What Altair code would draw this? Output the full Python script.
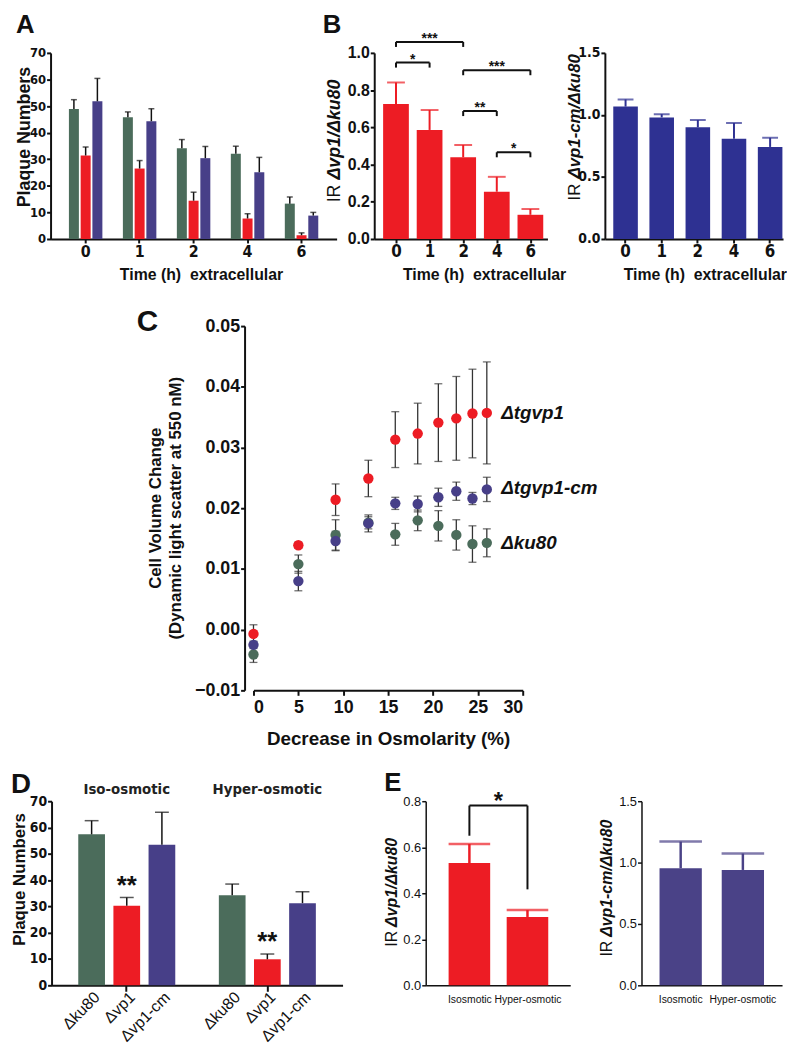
import json
import altair as alt
import pandas as pd

SANS = "Liberation Sans, Arial, Helvetica, sans-serif"
COND = "Liberation Sans Narrow, Arial Narrow, DejaVu Sans Condensed, Liberation Sans, sans-serif"
INK = "#111111"
RED = "#ed1c24"
A_GREEN = "#4b6c5b"
A_BLUE = "#473f88"
B_NAVY = "#2e3192"
C_GREEN = "#00a651"
C_BLUE = "#2e3192"
D_GREEN = "#47795f"
D_BLUE = "#463f86"
E_BLUE = "#4a4287"
NOFRAME = alt.ViewBackground(stroke=None, strokeWidth=0)

# ---------------- data ----------------
# Panel A: plaque numbers vs extracellular time
a_times = ["0", "1", "2", "4", "6"]
a_strains = ["ku80", "vp1", "vp1cm"]
a_ku80 = [48.9, 45.8, 34.1, 32.1, 13.3]
a_ku80_up = [52.4, 47.8, 37.4, 34.9, 15.8]
a_vp1 = [31.4, 26.5, 14.4, 7.7, 1.4]
a_vp1_up = [34.6, 29.5, 17.6, 9.5, 2.3]
a_cm = [51.8, 44.3, 30.4, 25.1, 8.8]
a_cm_up = [60.4, 49.0, 34.8, 30.7, 10.0]

# Panel B: invasion ratios
b_times = ["0", "1", "2", "4", "6"]
b_vp1 = [0.725, 0.586, 0.439, 0.254, 0.130]
b_vp1_up = [0.841, 0.693, 0.505, 0.334, 0.161]
b_cm = [1.067, 0.980, 0.900, 0.808, 0.742]
b_cm_up = [1.125, 1.006, 0.959, 0.935, 0.816]
b_sig_from = ["0", "0", "2", "2", "4"]
b_sig_to = ["2", "1", "6", "4", "6"]
b_sig_y = [1.059, 0.948, 0.907, 0.6875, 0.466]
b_sig_text = ["***", "*", "***", "**", "*"]

# Panel C: cell volume change
c_strains = ["ku80", "vp1", "vp1cm"]
c_x = [0, 5, 9.15, 12.8, 15.8, 18.3, 20.6, 22.6, 24.4, 26.0]
c_ku80 = [-0.0041, 0.0108, 0.0156, 0.0176, 0.0157, 0.0180, 0.0171, 0.0156, 0.0141, 0.0143]
c_ku80_sem = [0.0013, 0.0015, 0.0025, 0.0010, 0.0018, 0.0017, 0.0025, 0.0025, 0.0030, 0.0023]
c_vp1 = [-0.0007, 0.0139, 0.0214, 0.0249, 0.0313, 0.0323, 0.0341, 0.0348, 0.0356, 0.0357]
c_vp1_sem = [0.0015, 0.0005, 0.0026, 0.0030, 0.0046, 0.0050, 0.0064, 0.0069, 0.0073, 0.0084]
c_cm = [-0.0025, 0.0080, 0.0146, 0.0175, 0.0208, 0.0207, 0.0218, 0.0228, 0.0216, 0.0231]
c_cm_sem = [0.0006, 0.0016, 0.0016, 0.0014, 0.0010, 0.0013, 0.0015, 0.0015, 0.0010, 0.0020]
c_lab_text = ["\u0394tgvp1", "\u0394tgvp1-cm", "\u0394ku80"]
c_lab_x = [27.6, 27.6, 27.6]
c_lab_y = [0.0356, 0.0233, 0.0143]

# Panel D: plaque numbers iso / hyper-osmotic
d_groups = ["Iso-osmotic", "Hyper-osmotic"]
d_strains = ["\u0394ku80", "\u0394vp1", "\u0394vp1-cm"]
d_iso = [57.4, 30.25, 53.4]
d_iso_up = [62.6, 33.4, 65.8]
d_hyp = [34.25, 9.9, 31.25]
d_hyp_up = [38.5, 11.9, 35.6]
d_star_y = [40.5, 19.0]

# Panel E: invasion ratios
e_conds = ["Isosmotic", "Hyper-osmotic"]
e_vp1 = [0.531, 0.297]
e_vp1_up = [0.614, 0.327]
e_cm = [0.954, 0.940]
e_cm_up = [1.171, 1.074]
e_sig_top = 0.781
e_sig_low = [0.65, 0.417]


# ---------------- helpers ----------------
def ax(**kw):
    base = dict(domainColor=INK, domainWidth=2, tickColor=INK, tickWidth=2, tickSize=4,
                labelColor=INK, titleColor=INK, grid=False, labelFontWeight="bold",
                labelFont=COND)
    base.update(kw)
    return alt.Axis(**base)


def note(text, x, y, size, weight="bold", style="normal", angle=0, align="left",
         baseline="alphabetic", font=SANS):
    mk = dict(align=align, baseline=baseline, font=font, fontSize=size,
              fontWeight=weight, fontStyle=style, color=INK)
    if angle:
        mk["angle"] = angle
    return alt.Chart(pd.DataFrame({"t": [text]})).mark_text(**mk).encode(
        text="t:N", x=alt.value(x), y=alt.value(y))


def letter(ch, x, y, size):
    return note(ch, x, y, size, baseline="top")


def ir_title(x, y_ir, y_it, italic, size):
    return alt.layer(
        note("IR", x, y_ir, size, weight="normal", angle=270, baseline="middle"),
        note(italic, x, y_it, size, weight="bold", style="italic", angle=270, baseline="middle"),
    )


def dot(x, y):
    return alt.Chart(pd.DataFrame({"z": [0]})).mark_point(opacity=0, size=1).encode(
        x=alt.value(x), y=alt.value(y))


def spacer(w, h):
    return dot(0, 0).properties(width=w, height=h, view=NOFRAME)


def row_spacer(w, h, top_ext, bottom_ext):
    # invisible anchors that fix the row's bounding box
    return alt.layer(dot(0, -top_ext), dot(0, h + bottom_ext)).properties(width=w, height=h, view=NOFRAME)


# ---------------- Panel A ----------------
WA, HA = 289, 188
dfA = pd.DataFrame({
    "time": a_times * 3,
    "strain": [s for s in a_strains for _ in a_times],
    "mean": a_ku80 + a_vp1 + a_cm,
    "up": a_ku80_up + a_vp1_up + a_cm_up,
})
xA = alt.X("time:N", sort=a_times,
           scale=alt.Scale(type="band", paddingInner=0.38, paddingOuter=0.34),
           axis=ax(title="Time (h)\u00a0 extracellular", labelAngle=0, labelFontSize=16,
                   labelPadding=1, titleFont=SANS, titleFontSize=16, titleFontWeight="bold",
                   titleX=152, titleY=28))
xoA = alt.XOffset("strain:N", sort=a_strains, scale=alt.Scale(type="band", paddingInner=0.15))
axA_y = ax(title=None, values=list(range(0, 71, 10)), labelFontSize=13, labelPadding=1)


def yA(f):
    return alt.Y(f"{f}:Q", scale=alt.Scale(domain=[0, 70], nice=False), axis=axA_y)


barsA = alt.Chart(dfA).mark_bar().encode(
    x=xA, xOffset=xoA, y=yA("mean"),
    color=alt.Color("strain:N", scale=alt.Scale(domain=a_strains, range=[A_GREEN, RED, A_BLUE]), legend=None))
errA = alt.Chart(dfA).mark_rule(color=INK, strokeWidth=1.5).encode(x=xA, xOffset=xoA, y=yA("mean"), y2="up:Q")
capA = alt.Chart(dfA).mark_tick(color=INK, thickness=1.5, size=6, orient="horizontal").encode(
    x=xA, xOffset=xoA, y=yA("up"))
chartA = alt.layer(barsA, errA, capA,
                   letter("A", -35, -41, 26),
                   note("Plaque Numbers", -26, 85, 18, angle=270, align="center", baseline="middle")
                   ).properties(width=WA, height=HA, view=NOFRAME)

# ---------------- Panel B1 ----------------
WB1, HB = 175, 188
dfB1 = pd.DataFrame({"time": b_times, "idx": [b_times.index(t) for t in b_times],
                     "mean": b_vp1, "up": b_vp1_up})
axB1_x = ax(title="Time (h)\u00a0 extracellular", values=list(range(len(b_times))),
            labelExpr=json.dumps(b_times) + "[datum.value]", labelFontSize=17, labelPadding=1,
            titleFont=SANS, titleFontSize=16, titleFontWeight="bold", titleX=111, titleY=28)
axB1_y = ax(title=None, values=[0, 0.2, 0.4, 0.6, 0.8, 1.0], format=".1f", labelFont=SANS,
            labelFontSize=16, labelPadding=1)


def xB1(f):
    return alt.X(f"{f}:Q", scale=alt.Scale(domain=[-0.5, 4.361], nice=False, zero=False), axis=axB1_x)


def yB1(f):
    return alt.Y(f"{f}:Q", scale=alt.Scale(domain=[0, 1.0], nice=False), axis=axB1_y)


barsB1 = alt.Chart(dfB1).mark_bar(color=RED, size=26).encode(x=xB1("idx"), y=yB1("mean"))
errB1 = alt.Chart(dfB1).mark_rule(color=RED, strokeWidth=2).encode(x=xB1("idx"), y=yB1("mean"), y2="up:Q")
capB1 = alt.Chart(dfB1).mark_tick(color=RED, thickness=2, size=18, orient="horizontal").encode(
    x=xB1("idx"), y=yB1("up"))
dfBS = pd.DataFrame({"x1": [b_times.index(t) for t in b_sig_from],
                     "x2": [b_times.index(t) for t in b_sig_to],
                     "y": b_sig_y, "t": b_sig_text})
baseBS = alt.Chart(dfBS).transform_calculate(xm="(datum.x1 + datum.x2) / 2", ylo="datum.y - 0.027")
hB = baseBS.mark_rule(color=INK, strokeWidth=2).encode(x=xB1("x1"), x2="x2:Q", y=yB1("y"))
lB = baseBS.mark_rule(color=INK, strokeWidth=2).encode(x=xB1("x1"), y=yB1("y"), y2="ylo:Q")
rB = baseBS.mark_rule(color=INK, strokeWidth=2).encode(x=xB1("x2"), y=yB1("y"), y2="ylo:Q")
sB = baseBS.mark_text(font=SANS, fontSize=14, fontWeight="bold", baseline="alphabetic", dy=1,
                      color=INK).encode(x=xB1("xm"), y=yB1("y"), text="t:N")
chartB1 = alt.layer(barsB1, errB1, capB1, hB, lB, rB, sB,
                    letter("B", -52, -41, 26),
                    ir_title(-40, 151, 128, "\u0394vp1/\u0394ku80", 18)
                    ).properties(width=WB1, height=HB, view=NOFRAME)

# ---------------- Panel B2 ----------------
WB2 = 180
dfB2 = pd.DataFrame({"time": b_times, "mean": b_cm, "up": b_cm_up})
xB2 = alt.X("time:N", sort=b_times,
            scale=alt.Scale(type="band", paddingInner=0.32, paddingOuter=0.125, align=0.93),
            axis=ax(title="Time (h)\u00a0 extracellular", labelAngle=0, labelFontSize=17, labelPadding=1,
                    titleFont=SANS, titleFontSize=16, titleFontWeight="bold", titleX=101, titleY=28))
axB2_y = ax(title=None, values=[0, 0.5, 1.0, 1.5], format=".1f", labelFontSize=14, labelPadding=1)


def yB2(f):
    return alt.Y(f"{f}:Q", scale=alt.Scale(domain=[0, 1.5], nice=False), axis=axB2_y)


barsB2 = alt.Chart(dfB2).mark_bar(color=B_NAVY).encode(x=xB2, y=yB2("mean"))
errB2 = alt.Chart(dfB2).mark_rule(color=B_NAVY, strokeWidth=2).encode(x=xB2, y=yB2("mean"), y2="up:Q")
capB2 = alt.Chart(dfB2).mark_tick(color=B_NAVY, thickness=2, size=16, orient="horizontal").encode(
    x=xB2, y=yB2("up"))
chartB2 = alt.layer(barsB2, errB2, capB2,
                    ir_title(-30, 149, 127, "\u0394vp1-cm/\u0394ku80", 17)
                    ).properties(width=WB2, height=HB, view=NOFRAME)

# ---------------- Panel C ----------------
WC, HC = 272, 368
dfC = pd.DataFrame({
    "x": c_x * 3,
    "strain": [s for s in c_strains for _ in c_x],
    "mean": c_ku80 + c_vp1 + c_cm,
    "sem": c_ku80_sem + c_vp1_sem + c_cm_sem,
})
axC_x = ax(title="Decrease in Osmolarity (%)", values=list(range(0, 31, 5)), labelFont=SANS,
           labelFontSize=18, labelPadding=3, tickSize=5, titleFont=SANS, titleFontSize=19,
           titleFontWeight="bold", titlePadding=14)
axC_y = ax(title=None, values=[-0.01, 0, 0.01, 0.02, 0.03, 0.04, 0.05], format=".2f", labelFont=SANS,
           labelFontSize=18, labelPadding=1, offset=9)


def xC(f):
    return alt.X(f"{f}:Q", scale=alt.Scale(domain=[0, 30], nice=False), axis=axC_x)


def yC(f):
    return alt.Y(f"{f}:Q", scale=alt.Scale(domain=[-0.01, 0.05], nice=False, zero=False), axis=axC_y)


baseC = alt.Chart(dfC).transform_calculate(lo="datum.mean - datum.sem", hi="datum.mean + datum.sem")
errC = baseC.mark_rule(color="#333333", strokeWidth=1.3).encode(x=xC("x"), y=yC("lo"), y2="hi:Q")
capLoC = baseC.mark_tick(color="#333333", thickness=1.3, size=8, orient="horizontal").encode(x=xC("x"), y=yC("lo"))
capHiC = baseC.mark_tick(color="#333333", thickness=1.3, size=8, orient="horizontal").encode(x=xC("x"), y=yC("hi"))
ptsC = alt.Chart(dfC).mark_circle(size=110, opacity=1).encode(
    x=xC("x"), y=yC("mean"),
    color=alt.Color("strain:N", scale=alt.Scale(domain=c_strains, range=[C_GREEN, RED, C_BLUE]), legend=None))
dfCL = pd.DataFrame({"x": c_lab_x, "y": c_lab_y, "t": c_lab_text})
labC = alt.Chart(dfCL).mark_text(align="left", baseline="middle", font=SANS, fontSize=19,
                                 fontWeight="bold", fontStyle="italic", color=INK).encode(
    x=xC("x"), y=yC("y"), text="t:N")
chartC = alt.layer(errC, capLoC, capHiC, ptsC, labC,
                   letter("C", -118, -19, 30),
                   note("Cell Volume Change", -98, 184, 17, angle=270, align="center", baseline="middle"),
                   note("(Dynamic light scatter at 550 nM)", -78, 184, 17, angle=270, align="center",
                        baseline="middle")
                   ).properties(width=WC, height=HC, view=NOFRAME)

# ---------------- Panel D ----------------
WD, HD = 294, 186
d_slots = d_strains + ["gap"] + [s + "\u200b" for s in d_strains]
dfD = pd.DataFrame({
    "slot": d_slots[:3] + d_slots[4:],
    "group": [g for g in d_groups for _ in d_strains],
    "strain": d_strains * 2,
    "mean": d_iso + d_hyp,
    "up": d_iso_up + d_hyp_up,
})
xD = alt.X("slot:N", sort=d_slots,
           scale=alt.Scale(type="band", domain=d_slots, paddingInner=0.24, paddingOuter=0.76),
           axis=ax(title=None, labels=False, tickSize=6, values=[d_slots[1], d_slots[5]]))
axD_y = ax(title=None, values=list(range(0, 71, 10)), labelFontSize=14, labelPadding=1)


def yD(f):
    return alt.Y(f"{f}:Q", scale=alt.Scale(domain=[0, 70], nice=False), axis=axD_y)


barsD = alt.Chart(dfD).mark_bar().encode(
    x=xD, y=yD("mean"),
    color=alt.Color("strain:N", scale=alt.Scale(domain=d_strains, range=[D_GREEN, RED, D_BLUE]), legend=None))
errD = alt.Chart(dfD).mark_rule(color=INK, strokeWidth=1.5).encode(x=xD, y=yD("mean"), y2="up:Q")
capD = alt.Chart(dfD).mark_tick(color=INK, thickness=1.5, size=14, orient="horizontal").encode(
    x=xD, y=yD("up"))
labD = alt.Chart(dfD).mark_text(angle=315, align="right", baseline="top", font=SANS, fontSize=16,
                                color=INK).encode(x=xD, y=alt.value(HD + 4), text="strain:N")
dfDG = pd.DataFrame({"slot": [d_slots[1], d_slots[5]], "group": d_groups, "y": d_star_y,
                     "t": ["**", "**"]})
grpD = alt.Chart(dfDG).mark_text(baseline="middle", font=COND, fontSize=15, fontWeight="bold",
                                 color="#222222").encode(x=xD, y=alt.value(-12), text="group:N")
starD = alt.Chart(dfDG).mark_text(font=SANS, fontSize=26, fontWeight="bold", baseline="alphabetic",
                                  dy=15, color=INK).encode(x=xD, y=yD("y"), text="t:N")
chartD = alt.layer(barsD, errD, capD, labD, grpD, starD,
                   letter("D", -41, -30, 28),
                   note("Plaque Numbers", -32, 79, 17, angle=270, align="center", baseline="middle")
                   ).properties(width=WD, height=HD, view=NOFRAME)

# ---------------- Panel E1 ----------------
WE1, HE = 146, 186
dfE1 = pd.DataFrame({"cond": e_conds, "idx": [e_conds.index(c) for c in e_conds],
                     "mean": e_vp1, "up": e_vp1_up})
axE1_x = ax(title=None, values=list(range(len(e_conds))), labelExpr=json.dumps(e_conds) + "[datum.value]",
            ticks=False, labelFont=SANS, labelFontSize=10.5, labelFontWeight="normal", labelPadding=9,
            domainWidth=1.5)
axE1_y = ax(title=None, values=[0, 0.2, 0.4, 0.6, 0.8], format=".1f", labelFont=SANS, labelFontSize=13,
            labelFontWeight="normal", domainWidth=1.5, tickWidth=1.5, labelPadding=1)


def xE1(f):
    return alt.X(f"{f}:Q", scale=alt.Scale(domain=[-0.667, 1.651], nice=False, zero=False), axis=axE1_x)


def yE1(f):
    return alt.Y(f"{f}:Q", scale=alt.Scale(domain=[0, 0.8], nice=False), axis=axE1_y)


barsE1 = alt.Chart(dfE1).mark_bar(color=RED, size=42).encode(x=xE1("idx"), y=yE1("mean"))
errE1 = alt.Chart(dfE1).mark_rule(color=RED, strokeWidth=2.5).encode(x=xE1("idx"), y=yE1("mean"), y2="up:Q")
capE1 = alt.Chart(dfE1).mark_tick(color=RED, thickness=2.5, size=42, orient="horizontal").encode(
    x=xE1("idx"), y=yE1("up"))
dfES = pd.DataFrame({"x1": [0], "x2": [1], "y": [e_sig_top], "ylo1": [e_sig_low[0]],
                     "ylo2": [e_sig_low[1]], "t": ["*"]})
baseES = alt.Chart(dfES).transform_calculate(xm="(datum.x1 + datum.x2) / 2")
hE = baseES.mark_rule(color=INK, strokeWidth=2).encode(x=xE1("x1"), x2="x2:Q", y=yE1("y"))
lE = baseES.mark_rule(color=INK, strokeWidth=2).encode(x=xE1("x1"), y=yE1("y"), y2="ylo1:Q")
rE = baseES.mark_rule(color=INK, strokeWidth=2).encode(x=xE1("x2"), y=yE1("y"), y2="ylo2:Q")
sE = baseES.mark_text(font=SANS, fontSize=24, fontWeight="bold", baseline="alphabetic", dy=3,
                      color=INK).encode(x=xE1("xm"), y=yE1("y"), text="t:N")
chartE1 = alt.layer(barsE1, errE1, capE1, hE, lE, rE, sE,
                    letter("E", -42, -31, 26),
                    ir_title(-34, 147, 127, "\u0394vp1/\u0394ku80", 16)
                    ).properties(width=WE1, height=HE, view=NOFRAME)

# ---------------- Panel E2 ----------------
WE2 = 142
dfE2 = pd.DataFrame({"cond": e_conds, "mean": e_cm, "up": e_cm_up})
xE2 = alt.X("cond:N", sort=e_conds, scale=alt.Scale(type="band", paddingInner=0.32, paddingOuter=0.29),
            axis=ax(title=None, labelAngle=0, ticks=False, labelFont=SANS, labelFontSize=10.5,
                    labelFontWeight="normal", labelPadding=9, domainWidth=1.5))
axE2_y = ax(title=None, values=[0, 0.5, 1.0, 1.5], format=".1f", labelFont=SANS, labelFontSize=13,
            labelFontWeight="normal", domainWidth=1.5, tickWidth=1.5, labelPadding=1)


def yE2(f):
    return alt.Y(f"{f}:Q", scale=alt.Scale(domain=[0, 1.5], nice=False), axis=axE2_y)


barsE2 = alt.Chart(dfE2).mark_bar(color=E_BLUE).encode(x=xE2, y=yE2("mean"))
errE2 = alt.Chart(dfE2).mark_rule(color=E_BLUE, strokeWidth=2.5).encode(x=xE2, y=yE2("mean"), y2="up:Q")
capE2 = alt.Chart(dfE2).mark_tick(color=E_BLUE, thickness=2.5, size=43, orient="horizontal").encode(
    x=xE2, y=yE2("up"))
chartE2 = alt.layer(barsE2, errE2, capE2,
                    ir_title(-35, 157, 137, "\u0394vp1-cm/\u0394ku80", 16)
                    ).properties(width=WE2, height=HE, view=NOFRAME)

# ---------------- layout ----------------
row1 = alt.hconcat(row_spacer(40, HA, 43, 55), chartA, spacer(38, HA), chartB1, spacer(58, HA), chartB2,
                   spacing=0, bounds="flush")
row2 = alt.hconcat(row_spacer(245, HC, 25, 60), chartC, spacing=0, bounds="flush")
row3 = alt.hconcat(row_spacer(41, HD, 40, 60), chartD, spacer(84, HD), chartE1, spacer(72, HD), chartE2,
                   spacing=0, bounds="flush")

chart = alt.vconcat(alt.vconcat(row1, row2, spacing=6), row3, spacing=10).properties(
    padding={"left": 2, "top": -4, "right": 0, "bottom": 0}
).configure_view(stroke=None)

chart.save("out.html", embed_options={"renderer": "svg", "actions": False})
